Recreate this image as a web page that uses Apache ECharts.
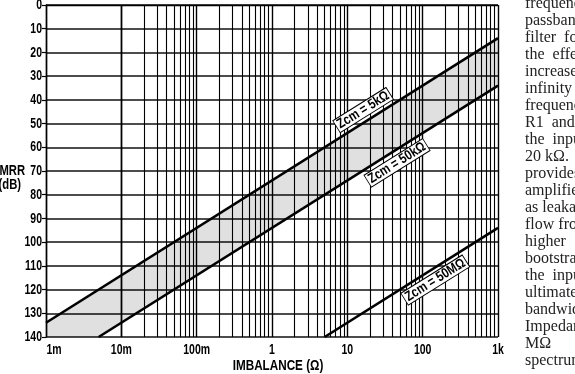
<!DOCTYPE html>
<html>
<head>
<meta charset="utf-8">
<script src="https://cdn.jsdelivr.net/npm/echarts@6/dist/echarts.min.js"></script>
<style>
  html, body { margin: 0; padding: 0; background: #fff; }
  #chart { width: 575px; height: 374px; }
</style>
</head>
<body>
<div id="chart"></div>
<script>
// x ticks (log, ohms) and their printed labels
const xTicks = [0.001, 0.01, 0.1, 1, 10, 100, 1000];
const xTickLabels = ['1m', '10m', '100m', '1', '10', '100', '1k'];
const yTicks = [0, 10, 20, 30, 40, 50, 60, 70, 80, 90, 100, 110, 120, 130, 140];

// CMRR lines: [imbalance ohm, dB]
const line5k = [[0.001, 134], [1000, 14]];
const line50k = [[0.005, 140], [1000, 34]];
const line50M = [[5, 140], [1000, 94]];
const lineNames = ['Zcm = 5kΩ', 'Zcm = 50kΩ', 'Zcm = 50MΩ'];
// where each line's tag sits
const tagPoints = [[16.2, 44.3], [45.7, 66.6], [147, 116]];

// body text of the page next to the figure (clipped by the page edge)
const sideText = [
  'frequenc', 'passband', 'filter  for', 'the  effec', 'increased', 'infinity',
  'frequenc', 'R1  and', 'the  inpu', '20 kΩ.', 'provides', 'amplifie',
  'as leakag', 'flow fro', 'higher', 'bootstrap', 'the  inpu', 'ultimatel',
  'bandwid', 'Impedan', 'MΩ      a', 'spectrun'
];

// 2..9 minor lines for every decade
const minorGrid = [];
xTicks.slice(0, -1).forEach(function (d) {
  for (let m = 2; m <= 9; m++) minorGrid.push(+(m * d).toPrecision(3));
});

// no condensed face installed, so bold Liberation Sans is squeezed with scaleX
const FONT = '"Liberation Sans", Arial, sans-serif';
const INK = '#000';
const SQUEEZE = 0.7;

const chart = echarts.init(document.getElementById('chart'), null, { renderer: 'canvas' });

const bandPoly = [line5k[0], line5k[1], line50k[1], line50k[0], [line5k[0][0], 140]];

const option = {
  animation: false,
  backgroundColor: '#fff',
  grid: { left: 46, right: 77, top: 5, bottom: 37 },
  xAxis: {
    type: 'log',
    logBase: 10,
    min: xTicks[0],
    max: xTicks[xTicks.length - 1],
    axisLine: { lineStyle: { color: INK, width: 1.4 } },
    axisTick: { show: false },
    axisLabel: { show: false },
    splitLine: { show: true, lineStyle: { color: INK, width: 1.4 } }
  },
  yAxis: {
    type: 'value',
    inverse: true,
    min: yTicks[0],
    max: yTicks[yTicks.length - 1],
    interval: 10,
    axisLine: { lineStyle: { color: INK, width: 1.4 } },
    axisTick: { show: true, length: 4, lineStyle: { color: INK, width: 1.2 } },
    axisLabel: { show: false },
    splitLine: { show: true, lineStyle: { color: '#111', width: 1.5 } }
  },
  series: [
    {
      type: 'custom',
      silent: true,
      data: bandPoly,
      renderItem: function (params, api) {
        if (params.dataIndex !== 0) return null;
        const pts = bandPoly.map(function (p) { return api.coord(p); });
        return {
          type: 'polygon',
          shape: { points: pts },
          style: { fill: 'rgba(0,0,0,0.12)' }
        };
      },
      z: 1
    },
    {
      type: 'line',
      data: [],
      silent: true,
      markLine: {
        silent: true,
        symbol: 'none',
        label: { show: false },
        lineStyle: { color: '#000', width: 1.1, type: 'solid' },
        data: minorGrid.map(function (v) { return { xAxis: v }; })
      }
    },
    { name: lineNames[0], type: 'line', data: line5k, symbol: 'none', silent: true,
      lineStyle: { color: '#000', width: 2.6 }, z: 5 },
    { name: lineNames[1], type: 'line', data: line50k, symbol: 'none', silent: true,
      lineStyle: { color: '#000', width: 2.6 }, z: 5 },
    { name: lineNames[2], type: 'line', data: line50M, symbol: 'none', silent: true,
      lineStyle: { color: '#000', width: 2.6 }, z: 5 }
  ]
};

chart.setOption(option);

// tick labels, axis names and line tags, placed through the chart's own scales
function px(p) { return chart.convertToPixel({ gridIndex: 0 }, p); }
const labelFont = 'bold 15px ' + FONT;
const g = [];

yTicks.forEach(function (v) {
  const p = px([xTicks[0], v]);
  g.push({
    type: 'text', x: p[0] - 4, y: p[1], scaleX: SQUEEZE, z: 10,
    style: { text: String(v), align: 'right', verticalAlign: 'middle', font: labelFont, fill: INK }
  });
});

xTicks.forEach(function (v, i) {
  const p = px([v, yTicks[yTicks.length - 1]]);
  g.push({
    type: 'text', x: p[0] + (i === 0 ? 8 : 0), y: p[1] + 13, scaleX: SQUEEZE, z: 10,
    style: { text: xTickLabels[i], align: 'center', verticalAlign: 'middle', font: labelFont, fill: INK }
  });
});

g.push({
  type: 'text', x: 278, y: 366, scaleX: 0.78, z: 10,
  style: { text: 'IMBALANCE (Ω)', align: 'center', verticalAlign: 'middle', font: 'bold 15px ' + FONT, fill: INK }
});
g.push({
  type: 'text', x: 25, y: 171, scaleX: 0.75, z: 10,
  style: { text: 'CMRR', align: 'right', verticalAlign: 'middle', font: 'bold 15px ' + FONT, fill: INK }
});
g.push({
  type: 'text', x: 21, y: 185, scaleX: 0.75, z: 10,
  style: { text: '(dB)', align: 'right', verticalAlign: 'middle', font: 'bold 15px ' + FONT, fill: INK }
});

tagPoints.forEach(function (t, i) {
  const p = px(t);
  g.push({
    type: 'text', x: p[0], y: p[1], rotation: 32 * Math.PI / 180, scaleX: 0.82, z: 20,
    style: {
      text: lineNames[i], align: 'center', verticalAlign: 'middle',
      font: 'bold 14px ' + FONT, fill: INK,
      backgroundColor: '#fff', borderColor: INK, borderWidth: 1, padding: [0, 2, -1, 2]
    }
  });
});

g.push({
  type: 'text', x: 525, y: -5, z: 10,
  style: {
    text: sideText.join('\n'),
    font: '16px "Liberation Serif", "DejaVu Serif", serif',
    lineHeight: 17, fill: '#222'
  }
});

chart.setOption({ graphic: g });
</script>
</body>
</html>
